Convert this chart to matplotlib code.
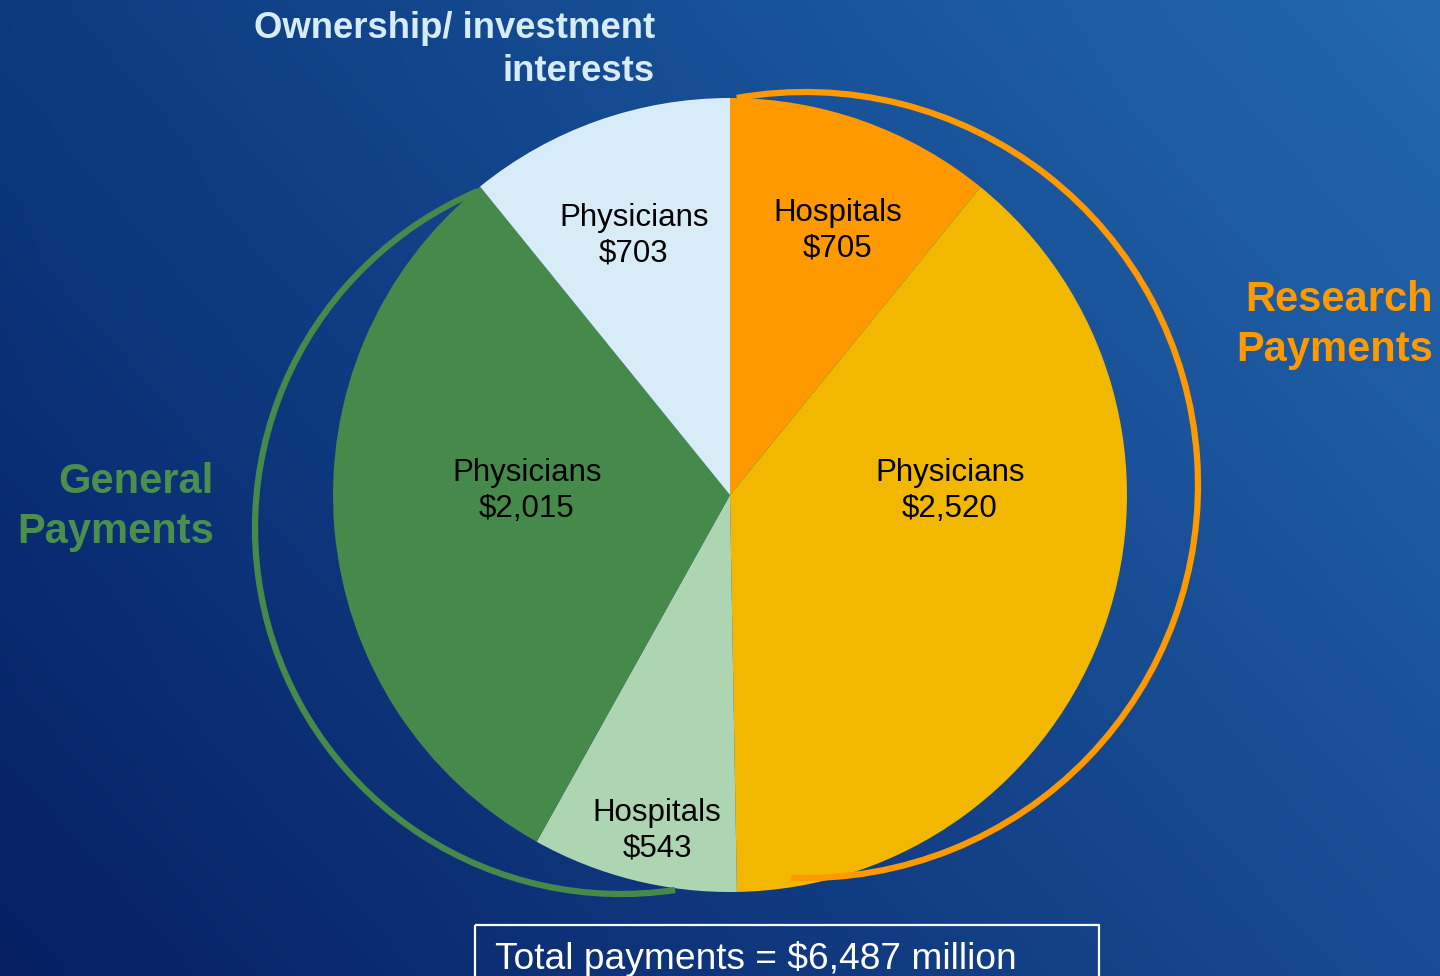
import matplotlib.pyplot as plt
import numpy as np
from matplotlib.patches import Arc, Rectangle

plt.rcParams['font.family'] = ['Liberation Sans', 'DejaVu Sans']

# slices, clockwise from 12 o'clock
groups = ["Hospitals", "Physicians", "Hospitals", "Physicians", "Physicians"]
values = [705, 2520, 543, 2015, 703]
colors = ["#FF9900", "#F2B800", "#ADD5B2", "#468A4B", "#D8ECF8"]
total_label = "Total payments = $6,487 million"

# label centres in pixel space
label_pos = [(838, 231), (950, 491), (657, 831), (527, 491), (634, 236)]

W, H = 1440, 976
fig = plt.figure(figsize=(W / 100, H / 100), dpi=100)
ax = fig.add_axes([0, 0, 1, 1])

# background gradient: dark navy bottom-left -> lighter blue top-right
c_tl = np.array([12, 58, 128]) / 255
c_tr = np.array([35, 104, 175]) / 255
c_bl = np.array([6, 31, 99]) / 255
c_br = np.array([24, 76, 148]) / 255
u = np.linspace(0, 1, 200)[None, :, None]
v = np.linspace(0, 1, 140)[:, None, None]
top = c_tl * (1 - u) + c_tr * u
bot = c_bl * (1 - u) + c_br * u
bg = top * (1 - v) + bot * v
ax.imshow(bg, extent=[0, W, H, 0], aspect='auto', zorder=0, interpolation='bicubic')

# y axis runs downward, so counterclock=True reads clockwise on screen
ax.pie(values, colors=colors, startangle=-90, counterclock=True,
       center=(730, 495), radius=397,
       wedgeprops=dict(linewidth=0, zorder=2), frame=True)

for g, val, (x, y) in zip(groups, values, label_pos):
    ax.text(x, y, f"{g}\n${val:,}", ha='center', va='center',
            fontsize=22.5, color='black', linespacing=1.22, zorder=5)

# bracket arcs
ax.add_patch(Arc((805, 485), 2 * 393, 2 * 393, theta1=-100, theta2=92,
                 color="#FF9900", lw=4.5, zorder=3))
ax.add_patch(Arc((621, 528), 2 * 366, 2 * 366, theta1=81.5, theta2=247,
                 color="#468A4B", lw=4.5, zorder=3))

ax.text(655, 50, "Ownership/ investment\ninterests", ha='right', va='center',
        fontsize=26.3, fontweight='bold', color="#D8ECF8", linespacing=1.27)
ax.text(1433, 325, "Research\nPayments", ha='right', va='center',
        fontsize=30, fontweight='bold', color="#FF9900", linespacing=1.3)
ax.text(214, 507, "General\nPayments", ha='right', va='center',
        fontsize=30, fontweight='bold', color="#4A8F4C", linespacing=1.3)

ax.add_patch(Rectangle((475, 925), 624, 80, fill=False, edgecolor='white',
                       lw=1.6, zorder=4))
ax.text(495, 959, total_label, ha='left', va='center', fontsize=26.7,
        color='white', zorder=5)

ax.set_xlim(0, W)
ax.set_ylim(H, 0)
ax.set_aspect('equal')
ax.axis('off')

fig.savefig("out.png", dpi=100)
